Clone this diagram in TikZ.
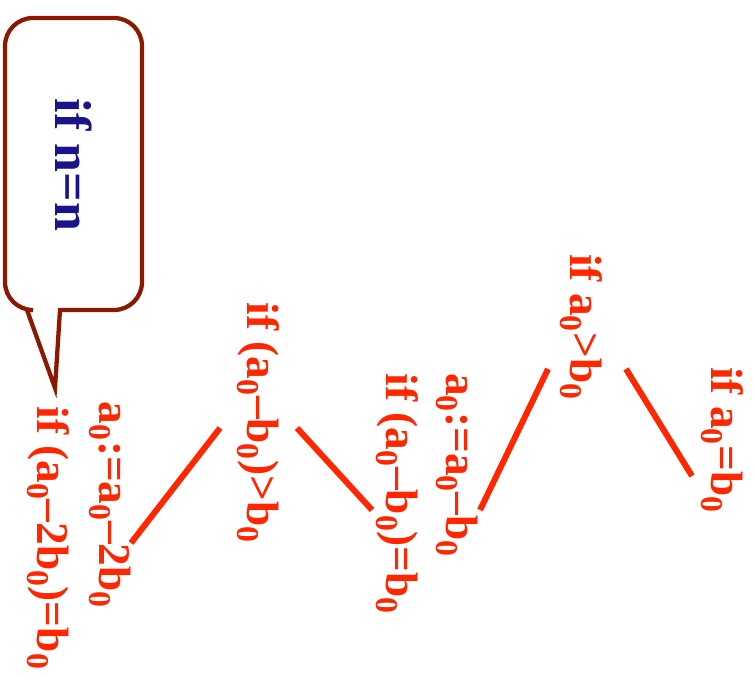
\documentclass[tikz,border=0pt]{standalone}
\usepackage{fontspec}
\setmainfont{Liberation Serif}
\usepackage{tikz}
\usetikzlibrary{positioning}

\definecolor{condred}{RGB}{255,38,0}
\definecolor{notenavy}{RGB}{26,20,140}
\definecolor{notebrown}{RGB}{140,24,0}

\begin{document}
\begin{tikzpicture}[x=0.75pt, y=-0.75pt,
    cond/.style={text=condred, font=\fontsize{34}{40}\selectfont\bfseries, rotate=-90, inner sep=0pt},
    branch/.style={draw=condred, line width=4.5pt},
    balloon/.style={draw=notebrown, line width=3.2pt, fill=white}]

    \useasboundingbox (0,0) rectangle (755,677);

    % Speech balloon
    \draw[balloon, rounded corners=21pt] (27,310) -- (5,310) -- (5,18) -- (142,18) -- (142,310) [sharp corners] -- (60,310) -- (55,388) -- cycle;
    \node[rotate=-90, inner sep=0pt, text=notenavy, font=\fontsize{39}{44}\selectfont\bfseries] (note) at (74,165) {if n=n};

    % Nodes
    \node[cond] (top) at (581,327) {if a\textsubscript{0}>b\textsubscript{0}};
    \node[cond] (leaf) at (722,440) {if a\textsubscript{0}=b\textsubscript{0}};
    \node[cond] (sub1) at (457,465) {a\textsubscript{0}:=a\textsubscript{0}–b\textsubscript{0}};
    \node[cond] (eq1) at (397,494) {if (a\textsubscript{0}–b\textsubscript{0})=b\textsubscript{0}};
    \node[cond] (mid) at (258,423) {if (a\textsubscript{0}–b\textsubscript{0})>b\textsubscript{0}};
    \node[cond] (sub2) at (110,505) {a\textsubscript{0}:=a\textsubscript{0}–2b\textsubscript{0}};
    \node[cond] (eq2) at (48,538) {if (a\textsubscript{0}–2b\textsubscript{0})=b\textsubscript{0}};

    % Branches
    \draw[branch] ([shift={(-33,42)}]top.center) -- ([shift={(23,45)}]sub1.center);
    \draw[branch] ([shift={(45,42)}]top.center) -- ([shift={(-30,36)}]leaf.center);
    \draw[branch] ([shift={(-38,5)}]mid.center) -- ([shift={(21,38)}]sub2.center);
    \draw[branch] ([shift={(39,5)}]mid.center) -- ([shift={(-25,16)}]eq1.center);

\end{tikzpicture}
\end{document}
